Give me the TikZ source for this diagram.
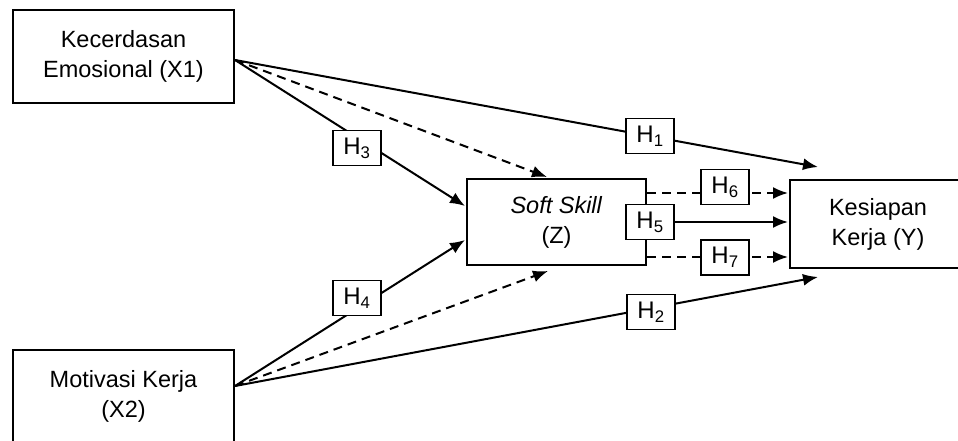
\documentclass[tikz,border=0pt]{standalone}
\usepackage{fontspec}
\setmainfont{Liberation Sans}
\usetikzlibrary{arrows.meta}

\tikzset{
  varbox/.style={draw, line width=2.2pt, fill=white, align=center, inner sep=0pt,
    font=\fontsize{23.5}{30}\selectfont},
  hypbox/.style={draw, line width=1.9pt, fill=white, inner sep=0pt,
    minimum width=48pt, minimum height=35pt, font=\fontsize{24}{28}\selectfont},
  link/.style={line width=2pt, -{Latex[length=15pt,width=12pt]}},
  dlink/.style={link, dash pattern=on 9pt off 6pt}
}

\begin{document}
\begin{tikzpicture}[x=1pt, y=-1pt]
    \useasboundingbox (0,0) rectangle (958,441);

    % variables (drawing units = pixels, y downwards)
    \node[varbox, minimum width=221pt, minimum height=93pt] (x1) at (123.5,56.5) {Kecerdasan\\Emosional (X1)};
    \node[varbox, minimum width=221pt, minimum height=93pt] (x2) at (123.5,396.5) {Motivasi Kerja\\(X2)};
    \node[varbox, minimum width=179pt, minimum height=86pt] (z) at (556.5,222) {\textit{Soft Skill}\\(Z)};
    \node[varbox, minimum width=176pt, minimum height=88pt] (y) at (878,224) {Kesiapan\\Kerja (Y)};

    % end points of the connectors
    \coordinate (x1o) at (235,60);
    \coordinate (x2o) at (235,386);
    \coordinate (z3) at (465,206);
    \coordinate (z4) at (465,240);
    \coordinate (zt) at (547,177);
    \coordinate (zb) at (548,271);
    \coordinate (y1) at (818,167);
    \coordinate (y2) at (818,277);
    \coordinate (z6) at (647,193);
    \coordinate (y6) at (788,193);
    \coordinate (z5) at (647,222);
    \coordinate (y5) at (788,222);
    \coordinate (z7) at (647,257);
    \coordinate (y7) at (788,257);

    % direct effects
    \draw[link] (x1o) -- (y1);
    \draw[link] (x2o) -- (y2);
    \draw[link] (x1o) -- (z3);
    \draw[link] (x2o) -- (z4);
    \draw[link] (z5) -- (y5);

    % indirect effects (dashed)
    \draw[dlink] (x1o) -- (zt);
    \draw[dlink] (x2o) -- (zb);
    \draw[dlink] (z6) -- (y6);
    \draw[dlink] (z7) -- (y7);

    % hypothesis labels
    \node[hypbox] (h1) at (650,136) {H\textsubscript{1}};
    \node[hypbox] (h2) at (651,312) {H\textsubscript{2}};
    \node[hypbox] (h3) at (357,148) {H\textsubscript{3}};
    \node[hypbox] (h4) at (357,298) {H\textsubscript{4}};
    \node[hypbox] (h5) at (650,222) {H\textsubscript{5}};
    \node[hypbox] (h6) at (725,187) {H\textsubscript{6}};
    \node[hypbox] (h7) at (725,257.5) {H\textsubscript{7}};

\end{tikzpicture}
\end{document}
